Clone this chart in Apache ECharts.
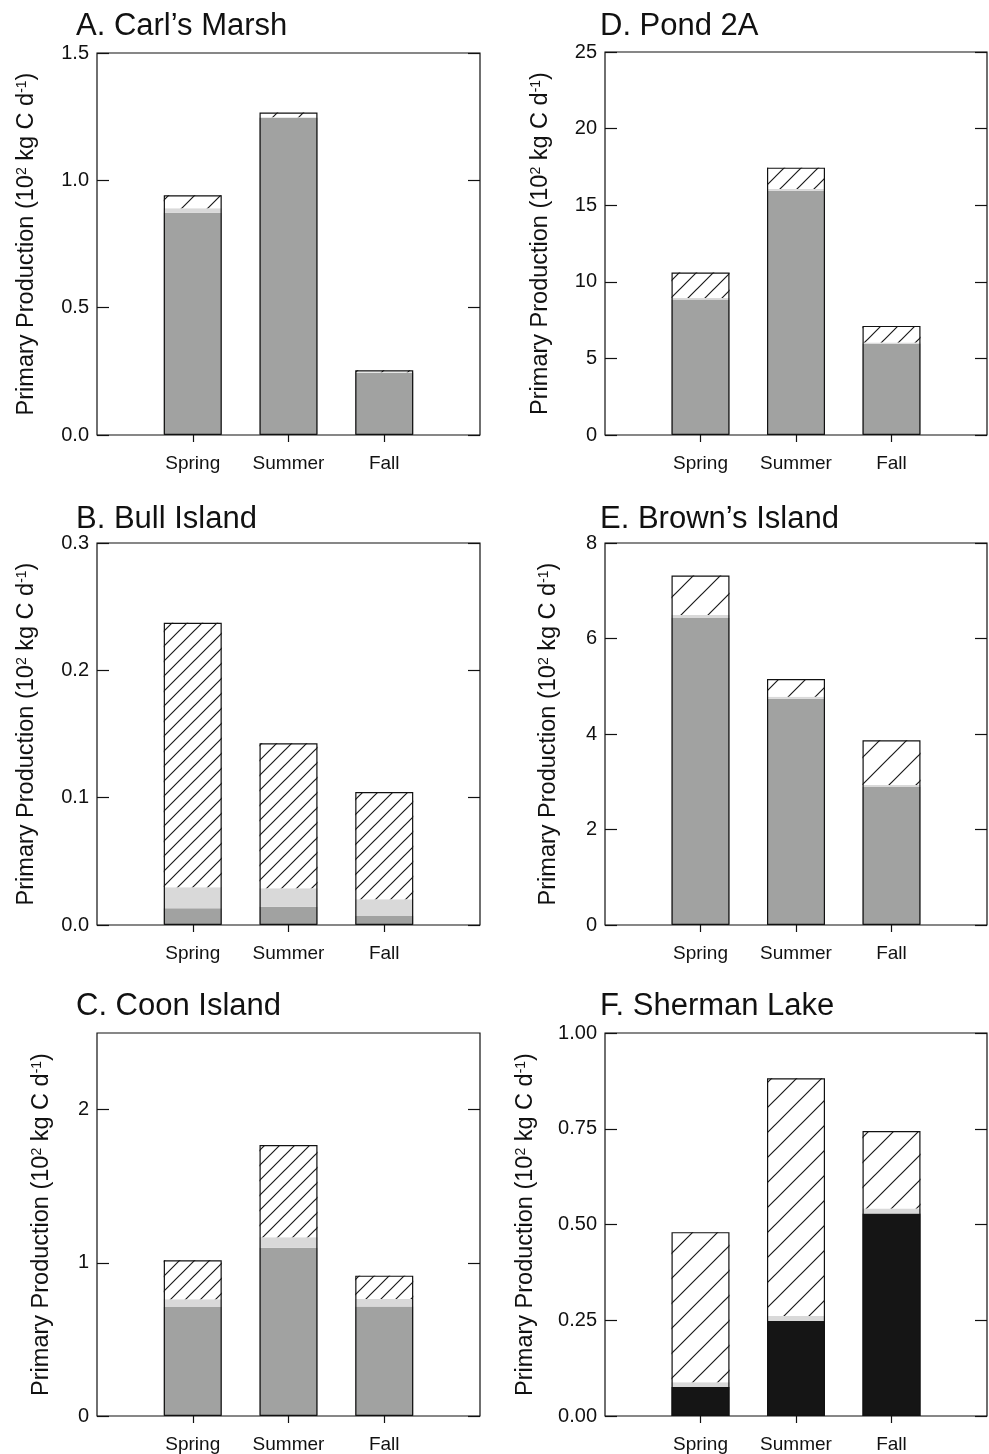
<!DOCTYPE html>
<html>
<head>
<meta charset="utf-8">
<script src="https://cdn.jsdelivr.net/npm/echarts@6/dist/echarts.min.js"></script>
<style>
html,body{margin:0;padding:0;background:#fff;}
#chart{width:989px;height:1454px;}
</style>
</head>
<body>
<div id="chart"></div>
<script>
// ---------- data ----------
const categories = ['Spring', 'Summer', 'Fall'];

// A. Carl's Marsh
const carlsBase  = [0.873, 1.245, 0.244];
const carlsLight = [0.017, 0.003, 0.002];
const carlsHatch = [0.051, 0.018, 0.008];
const carlsTicks = [0, 0.5, 1.0, 1.5];
const carlsTickLabels = ['0.0', '0.5', '1.0', '1.5'];

// B. Bull Island
const bullBase  = [0.0131, 0.0144, 0.0071];
const bullLight = [0.0165, 0.0144, 0.0131];
const bullHatch = [0.2078, 0.1139, 0.0843];
const bullTicks = [0, 0.1, 0.2, 0.3];
const bullTickLabels = ['0.0', '0.1', '0.2', '0.3'];

// C. Coon Island
const coonBase  = [0.711, 1.099, 0.714];
const coonLight = [0.051, 0.067, 0.050];
const coonHatch = [0.254, 0.603, 0.152];
const coonTicks = [0, 1, 2];
const coonTickLabels = ['0', '1', '2'];

// D. Pond 2A
const pondBase  = [8.85, 15.95, 5.95];
const pondLight = [0.10, 0.10, 0.08];
const pondHatch = [1.65, 1.40, 1.09];
const pondTicks = [0, 5, 10, 15, 20, 25];
const pondTickLabels = ['0', '5', '10', '15', '20', '25'];

// E. Brown's Island
const brownBase  = [6.43, 4.74, 2.89];
const brownLight = [0.06, 0.04, 0.04];
const brownHatch = [0.83, 0.37, 0.94];
const brownTicks = [0, 2, 4, 6, 8];
const brownTickLabels = ['0', '2', '4', '6', '8'];

// F. Sherman Lake
const shermanBase  = [0.076, 0.248, 0.529];
const shermanLight = [0.012, 0.013, 0.013];
const shermanHatch = [0.392, 0.621, 0.202];
const shermanTicks = [0, 0.25, 0.5, 0.75, 1.0];
const shermanTickLabels = ['0.00', '0.25', '0.50', '0.75', '1.00'];

const panelTitles = ['A. Carl\u2019s Marsh', 'B. Bull Island', 'C. Coon Island',
                     'D. Pond 2A', 'E. Brown\u2019s Island', 'F. Sherman Lake'];

// ---------- styling / layout ----------
const FONT = '"Liberation Sans", Arial, Helvetica, sans-serif';
const GRAY = '#a1a2a1';
const BLACK = '#151515';
const LIGHT = '#d9d9d9';

// padded category axis: empty slot at each side so bars sit at 1/4, 2/4, 3/4
const axisCats = [''].concat(categories, ['']);
const pad = arr => ['-'].concat(arr, ['-']);

function makeHatch(s) {
  const c = document.createElement('canvas');
  c.width = s; c.height = s;
  const ctx = c.getContext('2d');
  ctx.fillStyle = '#fff';
  ctx.fillRect(0, 0, s, s);
  ctx.strokeStyle = '#1a1a1a';
  ctx.lineWidth = 1.2;
  ctx.beginPath();
  ctx.moveTo(-2, s + 2); ctx.lineTo(s + 2, -2);
  ctx.moveTo(-2, 2); ctx.lineTo(2, -2);
  ctx.moveTo(s - 2, s + 2); ctx.lineTo(s + 2, s - 2);
  ctx.stroke();
  return { image: c, repeat: 'repeat' };
}

const panels = [
  { title: panelTitles[0], base: carlsBase, light: carlsLight, hatch: carlsHatch, ticks: carlsTicks, tickLabels: carlsTickLabels, max: 1.5, baseColor: GRAY,
    grid: { left: 97, top: 53, width: 383, height: 382 }, titlePos: [76, 11], nameGap: 58, hs: 26 },
  { title: panelTitles[1], base: bullBase, light: bullLight, hatch: bullHatch, ticks: bullTicks, tickLabels: bullTickLabels, max: 0.3, baseColor: GRAY,
    grid: { left: 97, top: 543, width: 383, height: 382 }, titlePos: [76, 504], nameGap: 58, hs: 15 },
  { title: panelTitles[2], base: coonBase, light: coonLight, hatch: coonHatch, ticks: coonTicks, tickLabels: coonTickLabels, max: 2.5, baseColor: GRAY,
    grid: { left: 97, top: 1033, width: 383, height: 383 }, titlePos: [76, 991], nameGap: 43, hs: 15 },
  { title: panelTitles[3], base: pondBase, light: pondLight, hatch: pondHatch, ticks: pondTicks, tickLabels: pondTickLabels, max: 25, baseColor: GRAY,
    grid: { left: 605, top: 52, width: 382, height: 383 }, titlePos: [600, 11], nameGap: 52, hs: 17 },
  { title: panelTitles[4], base: brownBase, light: brownLight, hatch: brownHatch, ticks: brownTicks, tickLabels: brownTickLabels, max: 8, baseColor: GRAY,
    grid: { left: 605, top: 543, width: 382, height: 382 }, titlePos: [600, 504], nameGap: 44, hs: 27 },
  { title: panelTitles[5], base: shermanBase, light: shermanLight, hatch: shermanHatch, ticks: shermanTicks, tickLabels: shermanTickLabels, max: 1.0, baseColor: BLACK,
    grid: { left: 605, top: 1033, width: 382, height: 383 }, titlePos: [600, 991], nameGap: 67, hs: 25 }
];

const option = {
  animation: false,
  backgroundColor: '#fff',
  textStyle: { fontFamily: FONT },
  title: [], grid: [], xAxis: [], yAxis: [], series: []
};

const notBlank = (idx, val) => val !== '';

panels.forEach((p, i) => {
  option.title.push({
    text: p.title, left: p.titlePos[0], top: p.titlePos[1], padding: 0,
    textStyle: { fontSize: 31, fontWeight: 'normal', color: '#111', fontFamily: FONT }
  });
  option.grid.push(Object.assign({ show: true, borderColor: '#111', borderWidth: 1.2, backgroundColor: 'transparent' }, p.grid));
  option.xAxis.push({
    type: 'category', gridIndex: i, data: axisCats, boundaryGap: false,
    axisLine: { show: false }, splitLine: { show: false },
    axisTick: { show: true, inside: false, length: 7, interval: notBlank, lineStyle: { color: '#111', width: 1.2 } },
    axisLabel: { show: true, interval: notBlank, margin: 19, fontSize: 19, color: '#111', fontFamily: FONT }
  });
  const yCommon = {
    type: 'value', gridIndex: i, min: 0, max: p.max,
    axisLine: { show: false }, splitLine: { show: false }
  };
  option.yAxis.push(Object.assign({}, yCommon, {
    position: 'left',
    axisTick: { show: true, inside: true, length: 12, customValues: p.ticks, lineStyle: { color: '#111', width: 1.2 } },
    axisLabel: { show: true, customValues: p.ticks, margin: 8, fontSize: 20, color: '#111', fontFamily: FONT,
      formatter: v => { const k = p.ticks.findIndex(t => Math.abs(t - v) < 1e-9); return k >= 0 ? p.tickLabels[k] : ''; } },
    name: 'Primary Production (10{sup|2} kg C d{sup|-1})',
    nameLocation: 'middle', nameGap: p.nameGap,
    nameTextStyle: { fontSize: 23.5, color: '#111', fontFamily: FONT,
      rich: { sup: { fontSize: 14, verticalAlign: 'top', padding: [0, 0, 4, 0], color: '#111', fontFamily: FONT } } }
  }));
  option.yAxis.push(Object.assign({}, yCommon, {
    position: 'right',
    axisTick: { show: true, inside: true, length: 12, customValues: p.ticks, lineStyle: { color: '#111', width: 1.2 } },
    axisLabel: { show: false }
  }));
  const yIdx = i * 2;
  const stackName = 'stack' + i;
  option.series.push({
    type: 'bar', xAxisIndex: i, yAxisIndex: yIdx, stack: stackName, barWidth: 58, barGap: '-100%',
    data: pad(p.base), itemStyle: { color: p.baseColor }, silent: true
  });
  option.series.push({
    type: 'bar', xAxisIndex: i, yAxisIndex: yIdx, stack: stackName, barWidth: 58, barGap: '-100%',
    data: pad(p.light), itemStyle: { color: LIGHT }, silent: true
  });
  option.series.push({
    type: 'bar', xAxisIndex: i, yAxisIndex: yIdx, stack: stackName, barWidth: 58, barGap: '-100%',
    data: pad(p.hatch), itemStyle: { color: makeHatch(p.hs) }, silent: true
  });
  const totals = p.base.map((b, k) => b + p.light[k] + p.hatch[k]);
  option.series.push({
    type: 'bar', xAxisIndex: i, yAxisIndex: yIdx, barWidth: 58, barGap: '-100%', z: 5,
    data: pad(totals), itemStyle: { color: 'rgba(0,0,0,0)', borderColor: '#111', borderWidth: 1.2 }, silent: true
  });
});

const chart = echarts.init(document.getElementById('chart'), null, { renderer: 'canvas' });
chart.setOption(option);
</script>
</body>
</html>
